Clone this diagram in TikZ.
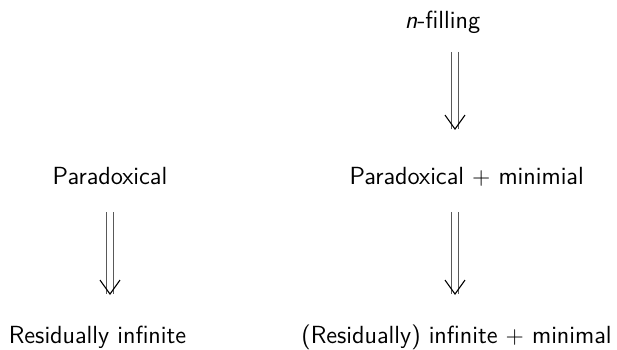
\documentclass[tikz,border=0pt]{standalone}
\usetikzlibrary{arrows.meta}
\begin{document}
\begin{tikzpicture}[x=1pt,y=1pt,
  lbl/.style={font=\sffamily\fontsize{12.4}{14}\selectfont, inner sep=0pt, anchor=base},
  impl/.style={double, double distance=3pt, line width=0.45pt, draw=black!65,
    -{Straight Barb[line width=0.55pt, length=7pt, width=10pt, color=black]}}]
\useasboundingbox (0,0) rectangle (308.5,174.5);
\node[lbl] (nfill) at (221.25,160.5) {\textit{n}-filling};
\node[lbl] (parL) at (55,82) {Paradoxical};
\node[lbl] (parR) at (233.35,82) {Paradoxical $+$ minimial};
\node[lbl] (resL) at (48.75,3) {Residually infinite};
\node[lbl] (resR) at (228.25,3) {(Residually) infinite $+$ minimal};
\coordinate (ax) at (227.5,0);
\draw[impl, shorten <=12pt, shorten >=27.5pt] (nfill.base -| ax) -- (parR.base -| ax);
\draw[impl, shorten <=13.5pt, shorten >=24pt] (parL.base) -- (parL.base |- resL.base);
\draw[impl, shorten <=13.5pt, shorten >=24pt] (parR.base -| ax) -- (resR.base -| ax);
\end{tikzpicture}
\end{document}
